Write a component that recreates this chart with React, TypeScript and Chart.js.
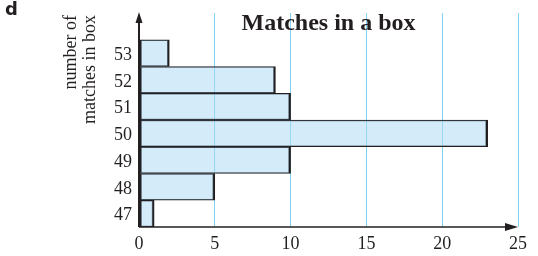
import React, { useEffect, useRef } from "react";
import { Chart, registerables } from "chart.js";

Chart.register(...registerables);

const categories = ["47", "48", "49", "50", "51", "52", "53", ""];
const counts = [1, 5, 10, 23, 10, 9, 2, null];
const xTicks = [0, 5, 10, 15, 20, 25];
const chartTitle = "Matches in a box";
const yTitleLines = ["number of", "matches in box"];
const partLabel = "d";

const INK = "#231f20";
const GRID = "#7fd3f2";

const decorPlugin = {
  id: "decor",
  afterDatasetsDraw(chart: any) {
    const { ctx, chartArea } = chart;
    const { left, right, top, bottom } = chartArea;
    ctx.save();
    ctx.strokeStyle = INK;
    ctx.fillStyle = INK;
    ctx.lineWidth = 2;
    ctx.beginPath();
    ctx.moveTo(left, bottom);
    ctx.lineTo(left, top + 8);
    ctx.stroke();
    ctx.beginPath();
    ctx.moveTo(left, top - 1);
    ctx.lineTo(left - 3.5, top + 10);
    ctx.lineTo(left + 3.5, top + 10);
    ctx.closePath();
    ctx.fill();
    ctx.lineWidth = 1.5;
    ctx.beginPath();
    ctx.moveTo(left, bottom);
    ctx.lineTo(right - 10, bottom);
    ctx.stroke();
    ctx.beginPath();
    ctx.moveTo(right, bottom);
    ctx.lineTo(right - 13, bottom - 4);
    ctx.lineTo(right - 13, bottom + 4);
    ctx.closePath();
    ctx.fill();

    ctx.font = "bold 24px 'Liberation Serif', 'Times New Roman', serif";
    ctx.textAlign = "center";
    ctx.textBaseline = "alphabetic";
    ctx.fillText(chartTitle, (left + right) / 2, top + 17);

    ctx.font = "18px 'Liberation Serif', 'Times New Roman', serif";
    ctx.textAlign = "right";
    const xs = [76, 95];
    yTitleLines.forEach((line, i) => {
      ctx.save();
      ctx.translate(xs[i], top + 2);
      ctx.rotate(-Math.PI / 2);
      ctx.fillText(line, 0, 0);
      ctx.restore();
    });

    ctx.font = "bold 18px 'DejaVu Sans', sans-serif";
    ctx.textAlign = "left";
    ctx.textBaseline = "top";
    ctx.fillText(partLabel, 5, 1);
    ctx.restore();
  },
};

export default function App() {
  const ref = useRef<HTMLCanvasElement | null>(null);
  useEffect(() => {
    document.body.style.margin = "0";
    const canvas = ref.current;
    if (!canvas) return;
    const chart = new Chart(canvas, {
      type: "bar",
      data: {
        labels: categories,
        datasets: [
          {
            data: counts as any,
            backgroundColor: "rgba(170, 218, 245, 0.5)",
            borderColor: INK,
            borderWidth: { top: 1, bottom: 1, left: 2, right: 2 } as any,
            borderSkipped: false,
            categoryPercentage: 1,
            barPercentage: 1,
          },
        ],
      },
      options: {
        indexAxis: "y",
        animation: false,
        responsive: false,
        maintainAspectRatio: false,
        layout: { padding: { top: 13, right: 20, left: 0, bottom: 0 } },
        plugins: {
          legend: { display: false },
          tooltip: { enabled: false },
          title: { display: false },
        },
        scales: {
          x: {
            type: "linear",
            min: xTicks[0],
            max: xTicks[xTicks.length - 1],
            afterBuildTicks: (scale: any) => {
              scale.ticks = xTicks.map((v) => ({ value: v }));
            },
            afterFit: (scale: any) => {
              scale.height = 29;
              scale.paddingLeft = 0;
              scale.paddingRight = 0;
            },
            border: { display: false },
            grid: {
              color: (c: any) => (c.tick && c.tick.value === 0 ? "rgba(0,0,0,0)" : GRID),
              lineWidth: 1,
              drawTicks: false,
            },
            ticks: {
              color: INK,
              padding: 6,
              font: { family: "'Liberation Serif', 'Times New Roman', serif", size: 18 },
            },
          },
          y: {
            type: "category",
            reverse: true,
            afterFit: (scale: any) => {
              scale.width = 139;
              scale.paddingTop = 0;
              scale.paddingBottom = 0;
            },
            border: { display: false },
            grid: { display: false, drawTicks: false },
            ticks: {
              color: INK,
              padding: 7,
              labelOffset: 2,
              font: { family: "'Liberation Serif', 'Times New Roman', serif", size: 18 },
            },
          },
        },
      },
      plugins: [decorPlugin],
    });
    return () => chart.destroy();
  }, []);
  return (
    <div style={{ width: 538, height: 256, background: "#fff" }}>
      <canvas ref={ref} width={538} height={256} style={{ display: "block" }} />
    </div>
  );
}
